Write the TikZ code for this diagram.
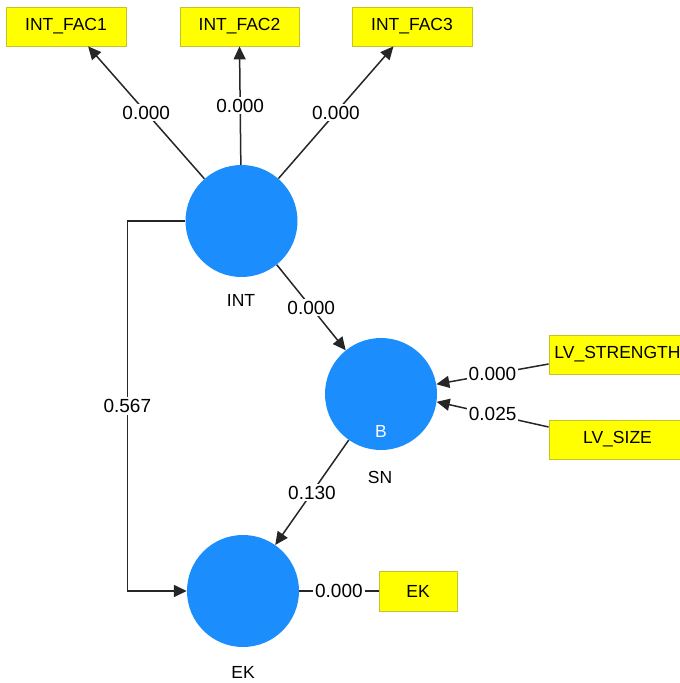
\documentclass[tikz,border=0pt]{standalone}
\usepackage{fontspec}
\setmainfont{Liberation Sans}
\usetikzlibrary{arrows.meta}
\definecolor{lvblue}{RGB}{28,141,253}
\definecolor{mvyellow}{RGB}{255,255,0}
\definecolor{mvborder}{RGB}{196,196,40}
\begin{document}
\begin{tikzpicture}[x=1pt,y=-1pt,
 lv/.style={circle,fill=lvblue,minimum size=112pt,inner sep=0pt},
 mv/.style={rectangle,fill=mvyellow,draw=mvborder,line width=0.8pt,inner sep=0pt,minimum height=39pt,font=\fontsize{17.5}{20}\selectfont},
 lbl/.style={fill=white,inner sep=2pt,font=\fontsize{19}{21}\selectfont},
 lvname/.style={font=\fontsize{17.5}{20}\selectfont},
 conn/.style={line width=1.5pt,draw=black!85},
 arr/.style={conn,-{Triangle[length=13pt,width=12pt]}}]
\useasboundingbox (0,0) rectangle (680,683);
\clip (0,0) rectangle (680,683);
% latent variables
\node[lv] (int) at (241.5,221) {};
\node[lv] (sn) at (381,394) {};
\node[lv] (ek) at (243,591) {};
\node[lvname] (intname) at (241,300) {INT};
\node[lvname] (snname) at (380,477) {SN};
\node[lvname] (ekname) at (243,672) {EK};
\node[lvname,text=white] (snb) at (381,431) {B};
% indicators
\node[mv,minimum width=120pt] (fac1) at (66,26.5) {INT\_FAC1};
\node[mv,minimum width=119pt] (fac2) at (239.5,26.5) {INT\_FAC2};
\node[mv,minimum width=120pt] (fac3) at (412,26.5) {INT\_FAC3};
\node[mv,minimum width=137pt] (lvs) at (617.5,354.5) {LV\_STRENGTH};
\node[mv,minimum width=137pt] (lvsz) at (617.5,439.5) {LV\_SIZE};
\node[mv,minimum width=78pt,minimum height=40pt] (ekbox) at (418,591) {EK};
% connectors
\draw[arr] (int) -- node[lbl] (l1) {0.000} (fac1.-42);
\draw[arr] (int) -- node[lbl] (l2) {0.000} (fac2.south);
\draw[arr] (int) -- node[lbl] (l3) {0.000} (fac3.-133);
\draw[arr] (int) -- node[lbl] (l4) {0.000} (sn);
\draw[arr] (sn) -- node[lbl] (l5) {0.130} (ek);
\draw[arr] (int.west) -- ++(-58,0) |- node[lbl,pos=0.25] (l6) {0.567} (ek.west);
\draw[arr] ([yshift=-9.5pt]lvs.west) -- node[lbl] (l7) {0.000} (sn.10);
\draw[arr] ([yshift=12.5pt]lvsz.west) -- node[lbl] (l8) {0.025} (sn.-8);
\draw[conn] (ek) -- node[lbl] (l9) {0.000} (ekbox);
\end{tikzpicture}
\end{document}
